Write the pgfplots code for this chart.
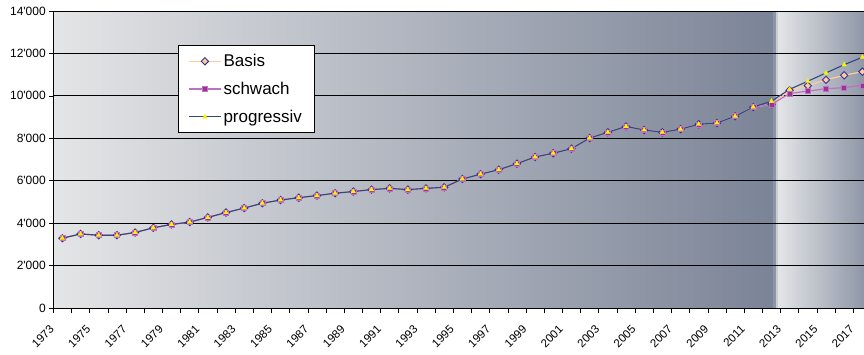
\documentclass[border=0pt]{standalone}
\usepackage{fontspec}
\setmainfont{Liberation Sans}
\usepackage{pgfplots}
\pgfplotsset{compat=1.18}
\usepackage{pgfplotstable}

% plot area shading
\definecolor{bgL}{HTML}{E4E5E6}
\definecolor{bgR}{HTML}{7B8497}
\definecolor{bandA}{HTML}{8E96A6}
\definecolor{bandB}{HTML}{C8CCD3}
\definecolor{bgL2}{HTML}{E2E4E6}
\definecolor{bgR2}{HTML}{8F97A7}
% series colours
\definecolor{peach}{HTML}{FFCC99}
\definecolor{navyM}{HTML}{333399}
\definecolor{plumM}{HTML}{993399}
\definecolor{plumL}{HTML}{C070C0}
\definecolor{progL}{HTML}{2E4A7E}

\pgfplotstableread{
year value
1973 3290
1974 3490
1975 3430
1976 3430
1977 3560
1978 3780
1979 3940
1980 4050
1981 4270
1982 4500
1983 4710
1984 4940
1985 5090
1986 5200
1987 5300
1988 5410
1989 5490
1990 5580
1991 5640
1992 5580
1993 5640
1994 5690
1995 6080
1996 6310
1997 6520
1998 6805
1999 7120
2000 7295
2001 7510
2002 8010
2003 8280
2004 8560
2005 8390
2006 8280
2007 8430
2008 8660
2009 8720
2010 9040
2011 9470
2012 9600
2013 10260
2014 10480
2015 10755
2016 10970
2017 11140
}\basis

\pgfplotstableread{
year value
1973 3290
1974 3490
1975 3430
1976 3430
1977 3560
1978 3780
1979 3940
1980 4050
1981 4270
1982 4500
1983 4710
1984 4940
1985 5090
1986 5200
1987 5300
1988 5410
1989 5490
1990 5580
1991 5640
1992 5580
1993 5640
1994 5690
1995 6080
1996 6310
1997 6520
1998 6805
1999 7120
2000 7295
2001 7510
2002 8010
2003 8280
2004 8560
2005 8390
2006 8280
2007 8430
2008 8660
2009 8720
2010 9040
2011 9470
2012 9600
2013 10110
2014 10225
2015 10335
2016 10390
2017 10500
}\schwach

\pgfplotstableread{
year value
1973 3290
1974 3490
1975 3430
1976 3430
1977 3560
1978 3780
1979 3940
1980 4050
1981 4270
1982 4500
1983 4710
1984 4940
1985 5090
1986 5200
1987 5300
1988 5410
1989 5490
1990 5580
1991 5640
1992 5580
1993 5640
1994 5690
1995 6080
1996 6310
1997 6520
1998 6805
1999 7120
2000 7295
2001 7510
2002 8010
2003 8280
2004 8560
2005 8390
2006 8280
2007 8430
2008 8660
2009 8720
2010 9040
2011 9470
2012 9750
2013 10310
2014 10690
2015 11080
2016 11470
2017 11820
}\progressiv

\begin{document}
\begin{tikzpicture}
\begin{axis}[
  set layers,
  scale only axis,
  width=810.7pt, height=297pt,
  xmin=1972.5, xmax=2017.09,
  ymin=0, ymax=14000,
  axis x line*=bottom, axis y line*=left,
  axis line style={-, black, line width=0.8pt},
  tick align=outside,
  scaled y ticks=false,
  ytick={0,2000,...,14000},
  major tick length=4pt,
  ymajorgrids,
  major grid style={black, line width=0.9pt},
  xtick={1973,1975,...,2017},
  major x tick style={draw=none},
  minor xtick={1972.5,1973.5,...,2016.5},
  minor tick length=5pt,
  minor x tick style={black, line width=0.6pt},
  major y tick style={black, line width=0.6pt},
  xticklabel={\pgfmathprintnumber[1000 sep={}]{\tick}},
  xticklabel style={font=\fontsize{11.5}{11.5}\selectfont, xshift=-8pt, yshift=-13pt, rotate=45, anchor=east},
  yticklabel style={font=\fontsize{12}{12}\selectfont},
  /pgf/number format/.cd, 1000 sep={\textquotesingle}, assume math mode=true,
  /pgfplots/.cd,
  legend style={at={(0.1538,0.8855)}, anchor=north west, draw=black,
    line width=0.7pt, fill=white, font=\fontsize{17}{17}\selectfont,
    inner xsep=10pt, inner ysep=7pt, row sep=10pt,
    /tikz/every even column/.append style={column sep=4pt}},
  legend cell align=left,
  legend image code/.code={\draw[mark repeat=2,mark phase=2,#1] plot coordinates {(0pt,0pt) (16pt,0pt) (32pt,0pt)};},
]
\begin{pgfonlayer}{axis background}
  \shade[left color=bgL, right color=bgR] (axis cs:1972.5,0) rectangle (axis cs:2012.07,14000);
  \fill[bandA] (axis cs:2012.07,0) rectangle (axis cs:2012.25,14000);
  \fill[bandB] (axis cs:2012.25,0) rectangle (axis cs:2012.39,14000);
  \shade[left color=bgL2, right color=bgR2] (axis cs:2012.39,0) rectangle (axis cs:2017.09,14000);
\end{pgfonlayer}

\addplot[color=peach, line width=1.2pt, mark=square*, mark size=2.6pt,
  mark options={rotate=45, fill=peach, draw=navyM, line width=0.9pt}]
  table[x=year, y=value] {\basis};
\addlegendentry{Basis}
\addplot[color=plumL, line width=1.2pt, mark=square*, mark size=2.5pt,
  mark options={fill=plumM, draw=plumL, line width=0.5pt}]
  table[x=year, y=value] {\schwach};
\addlegendentry{schwach}
\addplot[color=progL, line width=1.1pt, mark=triangle*, mark size=2.7pt,
  mark options={fill=yellow, draw=yellow, line width=0.2pt}]
  table[x=year, y=value] {\progressiv};
\addlegendentry{progressiv}
\end{axis}
\pgfresetboundingbox
\useasboundingbox (-53.3pt,-46pt) rectangle (810.7pt,308pt);
\end{tikzpicture}
\end{document}
